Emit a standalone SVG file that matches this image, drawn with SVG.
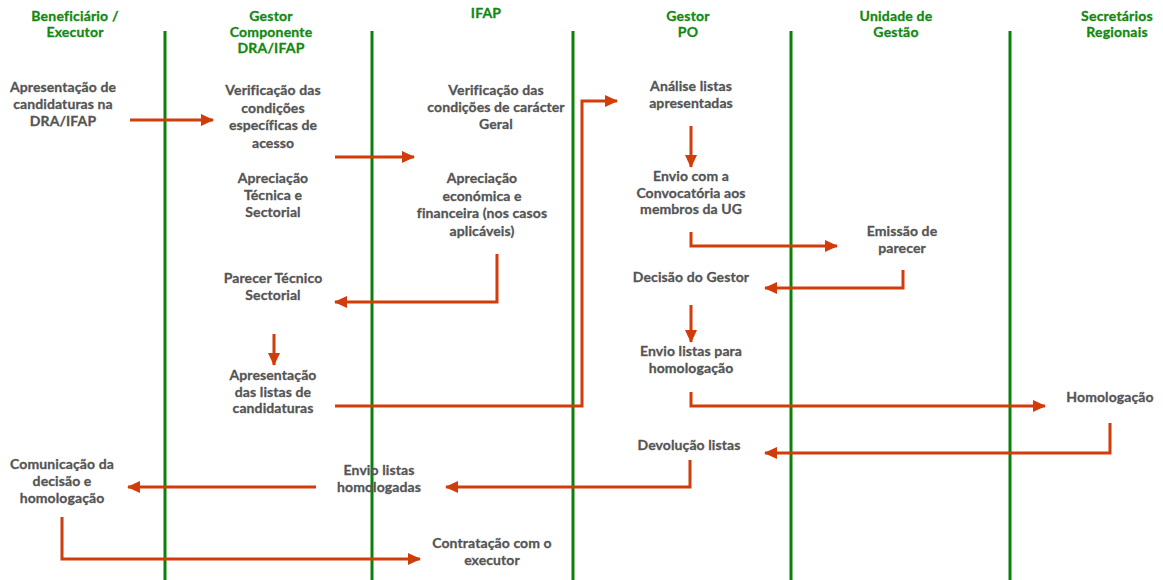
<svg xmlns="http://www.w3.org/2000/svg" width="1163" height="580" viewBox="0 0 1163 580">
<defs>
<style>
.hd{font-family:Lato,"Liberation Sans",sans-serif;font-weight:bold;font-size:14px;letter-spacing:0.2px;fill:#128812;text-anchor:middle;stroke:#128812;stroke-width:0.3}
.tx{font-family:Lato,"Liberation Sans",sans-serif;font-weight:bold;font-size:14px;letter-spacing:0.1px;fill:#555;text-anchor:middle;stroke:#555;stroke-width:0.3}
.lane{stroke:#0b800b;stroke-width:3}
.cn{fill:none;stroke:#d03c0a;stroke-width:3;marker-end:url(#ah)}
</style>
<marker id="ah" markerUnits="userSpaceOnUse" markerWidth="14" markerHeight="12" refX="12" refY="6" orient="auto">
<path d="M0,0 L13,6 L0,12 Z" fill="#d03c0a"/>
</marker>
</defs>
<rect width="1163" height="580" fill="#fff"/>
<g id="lanes">
<line class="lane" x1="165" y1="31" x2="165" y2="580"/>
<line class="lane" x1="372" y1="31" x2="372" y2="580"/>
<line class="lane" x1="573" y1="31" x2="573" y2="580"/>
<line class="lane" x1="791" y1="31" x2="791" y2="580"/>
<line class="lane" x1="1010" y1="31" x2="1010" y2="580"/>
</g>
<g id="headers">
<text class="hd" x="75" y="21">Beneficiário /<tspan x="75" dy="16">Executor</tspan></text>
<text class="hd" x="271" y="21">Gestor<tspan x="271" dy="16">Componente</tspan><tspan x="271" dy="16">DRA/IFAP</tspan></text>
<text class="hd" x="486" y="18">IFAP</text>
<text class="hd" x="688" y="21">Gestor<tspan x="688" dy="16">PO</tspan></text>
<text class="hd" x="896" y="21">Unidade de<tspan x="896" dy="16">Gestão</tspan></text>
<text class="hd" x="1117" y="21">Secretários<tspan x="1117" dy="16">Regionais</tspan></text>
</g>
<g id="connectors">
<path class="cn" d="M130,120 H213"/>
<path class="cn" d="M335,157 H414"/>
<path class="cn" d="M497,254 V302 H335"/>
<path class="cn" d="M274,334 V365"/>
<path class="cn" d="M335,406 H582 V101 H617"/>
<path class="cn" d="M691,126 V167"/>
<path class="cn" d="M691,232 V246 H837"/>
<path class="cn" d="M903,270 V288 H765"/>
<path class="cn" d="M691,305 V342"/>
<path class="cn" d="M691,392 V406 H1045"/>
<path class="cn" d="M1110,423 V453 H765"/>
<path class="cn" d="M690,460 V487 H446"/>
<path class="cn" d="M316,487 H128"/>
<path class="cn" d="M62,517 V559 H420"/>
</g>
<g id="n1"><text class="tx" x="63" y="92">Apresentação de<tspan x="63" dy="17">candidaturas na</tspan><tspan x="63" dy="17">DRA/IFAP</tspan></text></g>
<g id="n2"><text class="tx" x="273" y="95">Verificação das<tspan x="273" dy="17.5">condições</tspan><tspan x="273" dy="17.5">específicas de</tspan><tspan x="273" dy="17.5">acesso</tspan></text></g>
<g id="n3"><text class="tx" x="273" y="183">Apreciação<tspan x="273" dy="17">Técnica e</tspan><tspan x="273" dy="17">Sectorial</tspan></text></g>
<g id="n4"><text class="tx" x="273" y="283">Parecer Técnico<tspan x="273" dy="16.5">Sectorial</tspan></text></g>
<g id="n5"><text class="tx" x="273" y="380">Apresentação<tspan x="273" dy="16.5">das listas de</tspan><tspan x="273" dy="16.5">candidaturas</tspan></text></g>
<g id="n6"><text class="tx" x="496" y="95">Verificação das<tspan x="496" dy="17">condições de carácter</tspan><tspan x="496" dy="17">Geral</tspan></text></g>
<g id="n7"><text class="tx" x="482" y="183">Apreciação<tspan x="482" dy="17.5">económica e</tspan><tspan x="482" dy="17.5">financeira (nos casos</tspan><tspan x="482" dy="17.5">aplicáveis)</tspan></text></g>
<g id="n8"><text class="tx" x="691" y="91">Análise listas<tspan x="691" dy="16.5">apresentadas</tspan></text></g>
<g id="n9"><text class="tx" x="691" y="181">Envio com a<tspan x="691" dy="16.5">Convocatória aos</tspan><tspan x="691" dy="16.5">membros da UG</tspan></text></g>
<g id="n10"><text class="tx" x="902" y="236">Emissão de<tspan x="902" dy="16.5">parecer</tspan></text></g>
<g id="n11"><text class="tx" x="691" y="282">Decisão do Gestor</text></g>
<g id="n12"><text class="tx" x="691" y="356">Envio listas para<tspan x="691" dy="16.5">homologação</tspan></text></g>
<g id="n13"><text class="tx" x="1110" y="402">Homologação</text></g>
<g id="n14"><text class="tx" x="689" y="450">Devolução listas</text></g>
<g id="n15"><text class="tx" x="379" y="475">Envio listas<tspan x="379" dy="16.5">homologadas</tspan></text></g>
<g id="n16"><text class="tx" x="62" y="469">Comunicação da<tspan x="62" dy="17">decisão e</tspan><tspan x="62" dy="17">homologação</tspan></text></g>
<g id="n17"><text class="tx" x="492" y="548">Contratação com o<tspan x="492" dy="16.5">executor</tspan></text></g>
</svg>
